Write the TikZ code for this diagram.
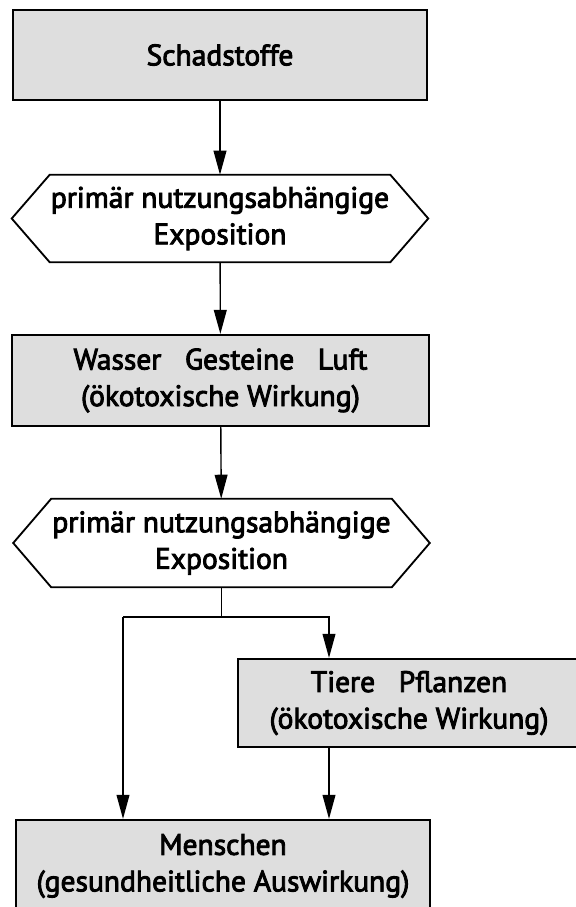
\documentclass[tikz,border=0pt]{standalone}
\usepackage{fontspec}
\setmainfont{PT Sans}[FakeBold=3]
\usetikzlibrary{arrows.meta,calc}
\definecolor{boxgray}{gray}{0.87}
\tikzstyle{stoff} = [rectangle, draw=black, line width=1.6pt, fill=boxgray, align=center, inner sep=0pt]
\tikzstyle{expo} = [rectangle, align=center, inner sep=0pt, minimum width=8.5cm]
\tikzstyle{hexline} = [draw=black, line width=1.3pt]
\tikzstyle{arrow} = [line width=1pt, -{Triangle[length=0.6cm,width=0.32cm]}]

\begin{document}
\begin{tikzpicture}[font=\fontsize{21}{26}\selectfont]
    \useasboundingbox (0,0) rectangle (14.4,-22.675);
    \node [stoff, minimum width=10.35cm, minimum height=2.25cm] (schad) at (5.5,-1.375) {Schadstoffe};
    \node [expo, minimum height=2.175cm] (expoA) at (5.5,-5.4625) {primär nutzungsabhängige\\Exposition};
    \node [stoff, minimum width=10.425cm, minimum height=2.275cm] (medien) at (5.5125,-9.5125) {Wasser\ \ \ Gesteine\ \ \ Luft\\(ökotoxische Wirkung)};
    \node [expo, minimum height=2.2cm] (expoB) at (5.5375,-13.575) {primär nutzungsabhängige\\Exposition};
    \node [stoff, minimum width=8.55cm, minimum height=2.2cm] (biota) at (10.225,-17.575) {Tiere\ \ \ Pflanzen\\(ökotoxische Wirkung)};
    \node [stoff, minimum width=10.35cm, minimum height=2.3cm] (mensch) at (5.575,-21.65) {Menschen\\(gesundheitliche Auswirkung)};
    % Sechsecke um die Expositionsknoten
    \foreach \n in {expoA,expoB}
        \draw [hexline] (\n.north west) -- (\n.north east) -- ($(\n.east)+(0.95,0)$) -- (\n.south east) -- (\n.south west) -- ($(\n.west)-(0.95,0)$) -- cycle;
    % Verzweigung
    \coordinate (split) at (expoB.south |- 0,-15.425);
    \coordinate (splitL) at (3.075,-15.425);
    \coordinate (splitR) at (8.225,-15.425);
    \draw [arrow] (schad) -- (expoA);
    \draw [arrow] (expoA) -- (medien);
    \draw [arrow] (medien) -- (expoB);
    \draw [line width=1pt] (expoB.south) -- (split);
    \draw [arrow] (splitL) -- (splitR) -- (splitR |- biota.north);
    \draw [arrow] (splitL) -- (splitL |- mensch.north);
    \draw [arrow] (splitR |- biota.south) -- (splitR |- mensch.north);
\end{tikzpicture}
\end{document}
